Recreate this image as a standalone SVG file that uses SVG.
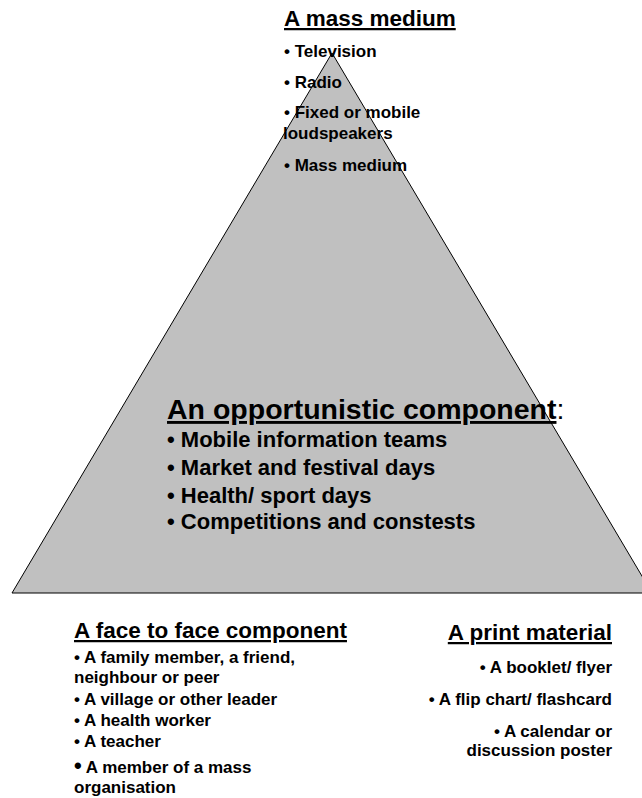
<svg xmlns="http://www.w3.org/2000/svg" width="642" height="798" viewBox="0 0 642 798">
<style>
text{font-family:"Liberation Sans",Arial,sans-serif;font-weight:bold;fill:#000}
.h{font-size:22.5px}
.i{font-size:17px}
.m{font-size:22px}
.u{text-decoration:underline}
.r{text-anchor:end}
</style>
<rect width="642" height="798" fill="#fff"/>
<g id="pyramid">
<polygon points="332,53 12,593 652,593" fill="#c0c0c0" stroke="#000" stroke-width="1"/>
</g>
<g id="mass-medium">
<text class="h u" x="284" y="26">A mass medium</text>
<text class="i" x="284" y="57">• Television</text>
<text class="i" x="284" y="88">• Radio</text>
<text class="i" x="284" y="118">• Fixed or mobile</text>
<text class="i" x="283" y="139">loudspeakers</text>
<text class="i" x="284" y="171">• Mass medium</text>
</g>
<g id="opportunistic">
<text x="167" y="419" style="font-size:28.5px"><tspan class="u">An opportunistic component</tspan><tspan style="font-weight:normal">:</tspan></text>
<text class="m" x="167" y="447">• Mobile information teams</text>
<text class="m" x="167" y="475">• Market and festival days</text>
<text class="m" x="167" y="503">• Health/ sport days</text>
<text class="m" x="167" y="529">• Competitions and constests</text>
</g>
<g id="face-to-face">
<text class="h u" x="74" y="638">A face to face component</text>
<text class="i" x="74" y="663">• A family member, a friend,</text>
<text class="i" x="74" y="683">neighbour or peer</text>
<text class="i" x="74" y="705">• A village or other leader</text>
<text class="i" x="74" y="726">• A health worker</text>
<text class="i" x="74" y="747">• A teacher</text>
<text class="i" x="74" y="773"><tspan style="font-size:22px">•</tspan> A member of a mass</text>
<text class="i" x="74" y="793">organisation</text>
</g>
<g id="print-material">
<text class="h u r" x="612" y="640">A print material</text>
<text class="i r" x="612" y="673">• A booklet/ flyer</text>
<text class="i r" x="612" y="705">• A flip chart/ flashcard</text>
<text class="i r" x="612" y="737">• A calendar or</text>
<text class="i r" x="612" y="756">discussion poster</text>
</g>
</svg>
